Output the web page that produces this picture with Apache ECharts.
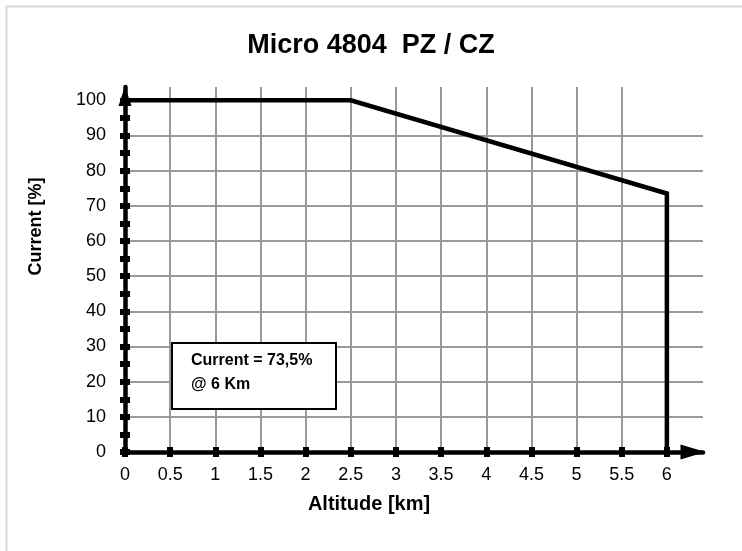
<!DOCTYPE html>
<html>
<head>
<meta charset="utf-8">
<script src="https://cdn.jsdelivr.net/npm/echarts@6/dist/echarts.min.js"></script>
<style>html,body{margin:0;padding:0;background:#fff}#c{width:742px;height:551px}</style>
</head>
<body>
<div id="c"></div>
<script>
var titleText = 'Micro 4804  PZ / CZ';
var xName = 'Altitude [km]';
var yName = 'Current [%]';
var altitude = [0, 2.5, 6, 6];
var current = [100, 100, 73.5, 0];
var xTickLabels = [0, 0.5, 1, 1.5, 2, 2.5, 3, 3.5, 4, 4.5, 5, 5.5, 6];
var yTickLabels = [0, 10, 20, 30, 40, 50, 60, 70, 80, 90, 100];
var yTickMarks = [0, 5, 10, 15, 20, 25, 30, 35, 40, 45, 50, 55, 60, 65, 70, 75, 80, 85, 90, 95, 100];
var noteLines = ['Current = 73,5%', '@ 6 Km'];

var FONT = '"Liberation Sans", Arial, sans-serif';
var X_MAX = 6.4, Y_MAX = 103.8;

var chart = echarts.init(document.getElementById('c'), null, {renderer: 'canvas'});
var seriesData = altitude.map(function (a, i) { return [a, current[i]]; });

function baseX(extra) {
  return Object.assign({
    type: 'value', min: 0, max: X_MAX, interval: 0.5, position: 'bottom',
    splitLine: {show: false}, axisLabel: {show: false}, axisTick: {show: false}, axisLine: {show: false}
  }, extra);
}
function baseY(extra) {
  return Object.assign({
    type: 'value', min: 0, max: Y_MAX, interval: 10, position: 'left',
    splitLine: {show: false}, axisLabel: {show: false}, axisTick: {show: false}, axisLine: {show: false}
  }, extra);
}
var tickStyle = {color: '#000', width: 6};

chart.setOption({
  animation: false,
  backgroundColor: '#fff',
  title: {
    text: titleText, left: 'center', top: 27,
    textStyle: {fontFamily: FONT, fontWeight: 'bold', fontSize: 27, color: '#000'}
  },
  grid: {left: 125, right: 39, top: 87, bottom: 99, containLabel: false},
  xAxis: [
    baseX({
      name: xName, nameLocation: 'middle', nameGap: 42,
      nameTextStyle: {fontFamily: FONT, fontWeight: 'bold', fontSize: 20, color: '#000', padding: [0, 90, 0, 0]},
      axisLine: {show: true, lineStyle: {color: '#000', width: 4.5}, symbol: ['none', 'triangle'], symbolSize: [15, 25], symbolOffset: [0, -10]},
      axisTick: {show: true, customValues: xTickLabels, length: 5, inside: false, lineStyle: tickStyle},
      axisLabel: {show: true, customValues: xTickLabels, margin: 14, fontFamily: FONT, fontSize: 18, color: '#000'},
      splitLine: {show: true, showMinLine: false, showMaxLine: false, lineStyle: {color: '#999', width: 2}}
    }),
    baseX({
      axisTick: {show: true, customValues: xTickLabels, length: 5, inside: true, lineStyle: tickStyle}
    })
  ],
  yAxis: [
    baseY({
      name: yName, nameLocation: 'middle', nameGap: 80,
      nameTextStyle: {fontFamily: FONT, fontWeight: 'bold', fontSize: 18, color: '#000', padding: [0, 0, 0, 86]},
      axisLine: {show: true, lineStyle: {color: '#000', width: 4.5}, symbol: ['none', 'triangle'], symbolSize: [13, 20], symbolOffset: [0, -9]},
      axisTick: {show: false, customValues: yTickLabels},
      axisLabel: {show: true, customValues: yTickLabels, margin: 19, fontFamily: FONT, fontSize: 18, color: '#000'},
      splitLine: {show: true, showMinLine: false, showMaxLine: false, lineStyle: {color: '#999', width: 2}}
    }),
    baseY({
      axisTick: {show: true, customValues: yTickMarks, length: 5, inside: true, lineStyle: tickStyle}
    }),
    baseY({
      axisTick: {show: true, customValues: yTickMarks, length: 5, inside: false, lineStyle: tickStyle}
    })
  ],
  series: [{
    type: 'line', xAxisIndex: 0, yAxisIndex: 0,
    data: seriesData, showSymbol: false, symbol: 'none', clip: false,
    lineStyle: {color: '#000', width: 4.5, cap: 'square', join: 'miter'},
    z: 3
  }],
  graphic: [
    {type: 'rect', left: 4, top: 4, z: 0, silent: true,
     shape: {x: 0, y: 0, width: 800, height: 600},
     style: {fill: 'none', stroke: '#d9d9d9', lineWidth: 2}},
    {type: 'rect', left: 171, top: 342, z: 100,
     shape: {x: 0, y: 0, width: 164, height: 66},
     style: {fill: '#fff', stroke: '#000', lineWidth: 2}},
    {type: 'text', left: 191, top: 353, z: 101,
     style: {text: noteLines[0], fontFamily: FONT, fontWeight: 'bold', fontSize: 16, fill: '#000'}},
    {type: 'text', left: 191, top: 377, z: 101,
     style: {text: noteLines[1], fontFamily: FONT, fontWeight: 'bold', fontSize: 16, fill: '#000'}}
  ]
});
</script>
</body>
</html>
